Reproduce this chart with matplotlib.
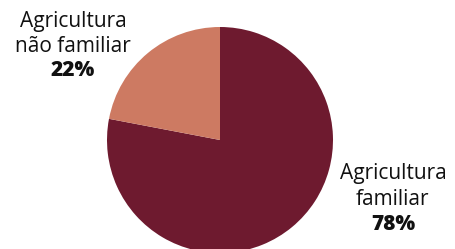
import matplotlib.pyplot as plt

# data
categorias = ['Agricultura\nfamiliar', 'Agricultura\nnão familiar']
valores = [78, 22]
cores = ['#6e1a2f', '#cd7a62']

plt.rcParams['font.family'] = ['Open Sans', 'DejaVu Sans']

fig = plt.figure(figsize=(4.55, 2.49), dpi=100)
ax = fig.add_axes([0, 0, 1, 1])

ax.pie(valores, colors=cores, startangle=90, counterclock=False, radius=1,
       center=(0, 0), wedgeprops={'linewidth': 0})

# pixel scale: radius ~113 px, centre at (220, 140) px
s = 113.0
ax.set_xlim(-220 / s, (455 - 220) / s)
ax.set_ylim(-(249 - 140) / s, 140 / s)
ax.set_aspect('auto')
ax.axis('off')

def rotulo(x, ys, nome, pct):
    linhas = nome.split('\n')
    for y, t in zip(ys, linhas):
        ax.text(x, y, t, ha='center', va='baseline', fontsize=15, color='#111111')
    ax.text(x, ys[len(linhas)], f'{pct}%', ha='center', va='baseline',
            fontsize=15, fontweight='heavy', color='#111111')

# label positions (baselines, in px)
rotulo((393 - 220) / s, [(140 - 179) / s, (140 - 205) / s, (140 - 230) / s],
       categorias[0], valores[0])
rotulo((73 - 220) / s, [(140 - 27) / s, (140 - 52) / s, (140 - 76) / s],
       categorias[1], valores[1])

fig.savefig('out.png', dpi=100)
